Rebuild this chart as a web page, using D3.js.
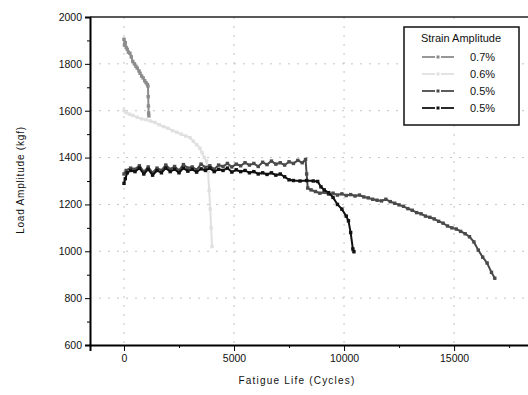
<!DOCTYPE html>
<html><head><meta charset="utf-8">
<script src="https://cdn.jsdelivr.net/npm/d3@7"></script>
<style>body{margin:0;background:#fff}svg{display:block}</style>
</head><body>
<svg id="c" width="528" height="395"></svg>
<script>
const yTicks = [600, 800, 1000, 1200, 1400, 1600, 1800, 2000];
const xTicks = [0, 5000, 10000, 15000];
const legendTitle = "Strain Amplitude";
const seriesNames = ["0.7%", "0.6%", "0.5%", "0.5%"];

const s07x = [0,20,60,100,150,200,270,330,400,470,540,600,680,730,800,870,940,1000,1060,1090,1100,1110,1120,1130];
const s07y = [1905,1880,1890,1870,1862,1850,1845,1830,1810,1800,1790,1782,1770,1760,1748,1740,1728,1720,1712,1705,1660,1620,1590,1578];

const s06x = [0,100,250,400,600,800,1000,1200,1400,1600,1800,2000,2200,2400,2600,2800,3000,3150,3300,3450,3550,3650,3750,3820,3870,3920,3960,4000];
const s06y = [1600,1592,1585,1580,1572,1565,1562,1556,1550,1540,1532,1525,1515,1508,1500,1492,1485,1470,1455,1440,1420,1400,1385,1340,1260,1180,1100,1020];

const s05ax = [0,100,300,500,700,900,1100,1300,1500,1700,1900,2100,2300,2500,2700,2900,3100,3300,3500,3700,3900,4100,4300,4500,4700,4900,5100,5300,5500,5700,5900,6100,6300,6500,6700,6900,7100,7300,7500,7700,7900,8100,8250,8300,8350,8500,8700,8900,9100,9300,9500,9700,9900,10100,10300,10500,10700,10900,11100,11300,11500,11700,11900,12100,12300,12500,12700,12900,13100,13300,13500,13700,13900,14100,14300,14500,14700,14900,15100,15300,15500,15700,15900,16100,16300,16500,16700,16850];
const s05ay = [1330,1345,1355,1350,1365,1340,1360,1335,1355,1345,1368,1350,1362,1345,1370,1355,1360,1348,1372,1358,1365,1350,1368,1362,1375,1360,1372,1365,1378,1368,1375,1362,1380,1370,1385,1372,1378,1368,1382,1375,1388,1378,1392,1330,1270,1262,1255,1248,1252,1244,1248,1240,1245,1238,1242,1236,1240,1232,1228,1222,1218,1215,1222,1212,1205,1198,1192,1182,1175,1165,1160,1150,1145,1138,1128,1120,1108,1100,1095,1085,1075,1062,1040,1005,975,950,910,885];

const s05bx = [0,60,150,300,500,700,900,1100,1300,1500,1700,1900,2100,2300,2500,2700,2900,3100,3300,3500,3700,3900,4100,4300,4500,4700,4900,5100,5300,5500,5700,5900,6100,6300,6500,6700,6900,7100,7300,7500,7700,8000,8300,8600,8800,8950,9100,9300,9500,9700,9900,10100,10200,10300,10400,10450];
const s05by = [1290,1310,1335,1345,1340,1355,1330,1350,1325,1345,1335,1355,1340,1350,1335,1355,1342,1350,1338,1352,1345,1355,1340,1350,1345,1355,1338,1348,1340,1345,1335,1340,1330,1335,1328,1335,1325,1330,1318,1305,1302,1300,1302,1300,1298,1275,1262,1250,1230,1200,1180,1150,1130,1080,1010,998];

const series = [
  {x: s07x, y: s07y, color: "#8c8c8c"},
  {x: s06x, y: s06y, color: "#e0e0e0"},
  {x: s05ax, y: s05ay, color: "#4a4a4a"},
  {x: s05bx, y: s05by, color: "#111"}
];

const svg = d3.select("#c");
const x = d3.scaleLinear().domain([-1545, 18450]).range([90, 530]);
const y = d3.scaleLinear().domain([600, 2000]).range([345, 17]);
const font = "Liberation Sans, Arial, sans-serif";

// grid
const g = svg.append("g");
g.selectAll("line.hg").data(yTicks.filter(d => d > 600 && d < 2000)).join("line")
  .attr("x1", 90).attr("x2", 528).attr("y1", d => y(d)).attr("y2", d => y(d))
  .attr("stroke", "#c4c4c4").attr("stroke-width", 1).attr("stroke-dasharray", "2,7");
g.selectAll("line.vg").data(xTicks).join("line")
  .attr("y1", 17).attr("y2", 345).attr("x1", d => x(d)).attr("x2", d => x(d))
  .attr("stroke", "#c4c4c4").attr("stroke-width", 1).attr("stroke-dasharray", "2,7");

// series
const line = d3.line().x(d => x(d[0])).y(d => y(d[1]));
series.forEach(s => {
  const pts = s.x.map((v, i) => [v, s.y[i]]);
  svg.append("path").datum(pts).attr("d", line).attr("fill", "none")
    .attr("stroke", s.color).attr("stroke-width", 2);
  svg.append("g").selectAll("rect").data(pts).join("rect")
    .attr("x", d => x(d[0]) - 1.7).attr("y", d => y(d[1]) - 1.7)
    .attr("width", 3.4).attr("height", 3.4).attr("fill", s.color);
});

// axes
const yAxis = d3.axisLeft(y).tickValues(yTicks).tickSize(5).tickFormat(d3.format("d"));
const ya = svg.append("g").attr("transform", "translate(90,0)").call(yAxis);
ya.select(".domain").attr("stroke-width", 2);
ya.selectAll("text").attr("font-family", font).attr("font-size", 10.5).attr("fill", "#111").attr("x", -8);
const yMinor = d3.axisLeft(y).tickValues(d3.range(700, 2000, 200)).tickSize(3).tickFormat("");
svg.append("g").attr("transform", "translate(90,0)").call(yMinor).select(".domain").remove();

const xAxis = d3.axisBottom(x).tickValues(xTicks).tickSize(6).tickFormat(d3.format("d"));
const xa = svg.append("g").attr("transform", "translate(0,345)").call(xAxis);
xa.select(".domain").attr("stroke-width", 2);
xa.selectAll("text").attr("font-family", font).attr("font-size", 10.5).attr("fill", "#111").attr("y", 10);
const xMinor = d3.axisBottom(x).tickValues([2500, 7500, 12500, 17500]).tickSize(3).tickFormat("");
svg.append("g").attr("transform", "translate(0,345)").call(xMinor).select(".domain").remove();

// top frame
svg.append("line").attr("x1", 90).attr("x2", 528).attr("y1", 17).attr("y2", 17)
  .attr("stroke", "#222").attr("stroke-width", 1.5);

// titles
svg.append("text").attr("x", 297).attr("y", 384).attr("text-anchor", "middle")
  .attr("font-family", font).attr("font-size", 10).attr("letter-spacing", 1.2).attr("fill", "#111")
  .text("Fatigue Life (Cycles)");
svg.append("text").attr("transform", "translate(24,180) rotate(-90)").attr("text-anchor", "middle")
  .attr("font-family", font).attr("font-size", 10).attr("letter-spacing", 0.8).attr("fill", "#111")
  .text("Load Amplitude (kgf)");

// legend
const lg = svg.append("g");
lg.append("rect").attr("x", 404).attr("y", 27).attr("width", 115).attr("height", 98)
  .attr("fill", "#fff").attr("stroke", "#111").attr("stroke-width", 1.5);
lg.append("text").attr("x", 461).attr("y", 42).attr("text-anchor", "middle")
  .attr("font-family", font).attr("font-size", 11).attr("fill", "#111").text(legendTitle);
const rowY = [57, 74, 91, 108];
seriesNames.forEach((n, i) => {
  const yy = rowY[i];
  const c = series[i].color;
  lg.append("line").attr("x1", 422).attr("x2", 435).attr("y1", yy).attr("y2", yy).attr("stroke", c).attr("stroke-width", 1.8);
  lg.append("line").attr("x1", 441).attr("x2", 454).attr("y1", yy).attr("y2", yy).attr("stroke", c).attr("stroke-width", 1.8);
  lg.append("rect").attr("x", 436.5).attr("y", yy - 1.5).attr("width", 3).attr("height", 3).attr("fill", c);
  lg.append("text").attr("x", 470).attr("y", yy + 4).attr("font-family", font).attr("font-size", 11)
    .attr("fill", "#111").text(n);
});
</script>
</body></html>
